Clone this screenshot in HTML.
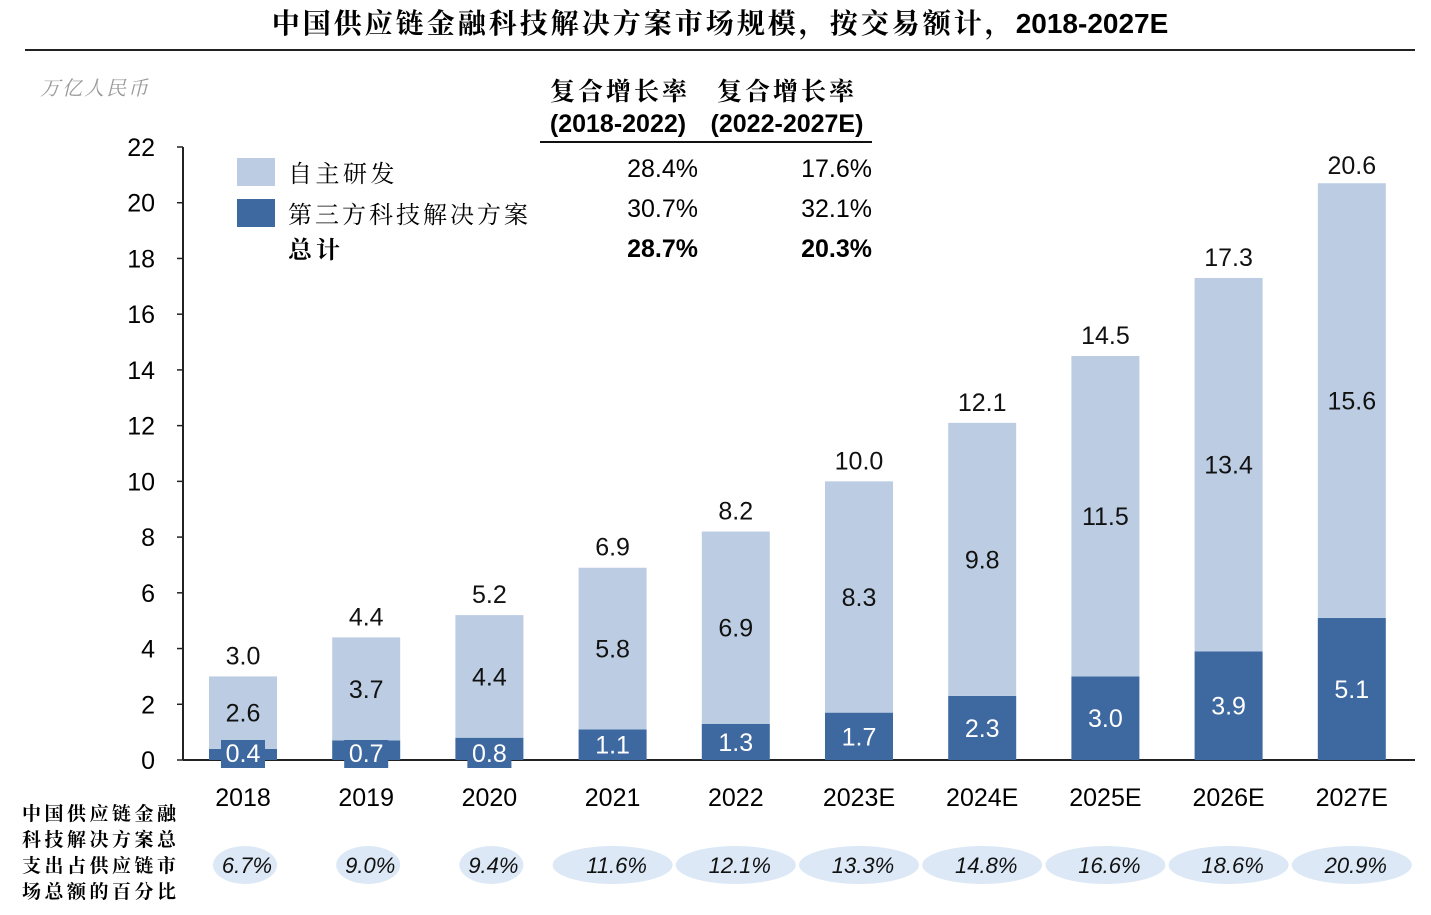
<!DOCTYPE html>
<html><head><meta charset="utf-8"><style>
body{margin:0;background:#fff;width:1431px;height:915px;overflow:hidden;}
svg{display:block;font-family:"Liberation Sans","Noto Sans CJK SC",sans-serif;}
.cjk{font-family:"Liberation Serif","Noto Serif CJK SC",serif;}
</style></head><body>
<svg id="chart" width="1431" height="915">
<text x="720" y="33" text-anchor="middle" font-size="28" font-weight="bold" class="cjk" letter-spacing="3">中国供应链金融科技解决方案市场规模，按交易额计，<tspan font-family="Liberation Sans" letter-spacing="0">2018-2027E</tspan></text>
<line x1="25" y1="50" x2="1415" y2="50" stroke="#222" stroke-width="2"/>
<text x="40" y="95" font-size="20" fill="#999" font-style="italic" class="cjk" letter-spacing="2">万亿人民币</text>
<g font-size="25">
<text x="620" y="100" text-anchor="middle" font-weight="bold" class="cjk" letter-spacing="3">复合增长率</text>
<text x="787" y="100" text-anchor="middle" font-weight="bold" class="cjk" letter-spacing="3">复合增长率</text>
<text x="618" y="132" text-anchor="middle" font-weight="bold">(2018-2022)</text>
<text x="787" y="132" text-anchor="middle" font-weight="bold">(2022-2027E)</text>
<line x1="540" y1="142" x2="872" y2="142" stroke="#111" stroke-width="2"/>
<rect x="237" y="158" width="38" height="28" fill="#bccde3"/>
<text x="288" y="182" class="cjk" font-size="24" letter-spacing="3.5">自主研发</text>
<rect x="237" y="199" width="38" height="28" fill="#3e68a0"/>
<text x="288" y="223" class="cjk" font-size="24" letter-spacing="3">第三方科技解决方案</text>
<text x="288" y="258" font-weight="bold" class="cjk" font-size="24" letter-spacing="4">总计</text>
<text x="698" y="177" text-anchor="end">28.4%</text><text x="872" y="177" text-anchor="end">17.6%</text>
<text x="698" y="217" text-anchor="end">30.7%</text><text x="872" y="217" text-anchor="end">32.1%</text>
<text x="698" y="257" text-anchor="end" font-weight="bold">28.7%</text><text x="872" y="257" text-anchor="end" font-weight="bold">20.3%</text>
</g>
<g id="plot"></g>
<text font-size="19" font-weight="bold" class="cjk" letter-spacing="3.5">
<tspan x="22" y="820">中国供应链金融</tspan><tspan x="22" y="846">科技解决方案总</tspan><tspan x="22" y="872">支出占供应链市</tspan><tspan x="22" y="898">场总额的百分比</tspan></text>
</svg>
<script>
const categories=["2018","2019","2020","2021","2022","2023E","2024E","2025E","2026E","2027E"];
const inHouse=[2.6,3.7,4.4,5.8,6.9,8.3,9.8,11.5,13.4,15.6];
const thirdParty=[0.4,0.7,0.8,1.1,1.3,1.7,2.3,3.0,3.9,5.1];
const totals=[3.0,4.4,5.2,6.9,8.2,10.0,12.1,14.5,17.3,20.6];
const shares=["6.7%","9.0%","9.4%","11.6%","12.1%","13.3%","14.8%","16.6%","18.6%","20.9%"];
const yTicks=[0,2,4,6,8,10,12,14,16,18,20,22];
const NS="http://www.w3.org/2000/svg";
const g=document.getElementById('plot');
const y0=760,yTop=147,yMax=22;
const y=v=>y0-(v/yMax)*(y0-yTop);
const x=i=>243+i*123.2;
const bw=68;
function el(t,a,txt){const e=document.createElementNS(NS,t);for(const k in a)e.setAttribute(k,a[k]);if(txt!==undefined)e.textContent=txt;g.appendChild(e);return e;}
let ax=el('line',{x1:183,y1:147,x2:183,y2:760,stroke:'#222','stroke-width':2});


let xa=el('line',{x1:183,y1:760,x2:1415,y2:760,stroke:'#222','stroke-width':2});


yTicks.forEach(t=>{
  let l=el('line',{x1:177,y1:y(t),x2:183,y2:y(t),stroke:'#222','stroke-width':1.5});
  
  
  let tx=el('text',{x:155,y:y(t)+9,'text-anchor':'end','font-size':25},t);
  
  
});
categories.forEach((c,i)=>{
  const cx=x(i),tot=thirdParty[i]+inHouse[i];
  let b1=el('rect',{x:cx-bw/2,y:y(thirdParty[i]),width:bw,height:y0-y(thirdParty[i]),fill:'#3e68a0'});
  
  
  let b2=el('rect',{x:cx-bw/2,y:y(tot),width:bw,height:y(thirdParty[i])-y(tot),fill:'#bccde3'});
  
  
  const small=thirdParty[i]<1;
  const ly=small?y0+2:(y0+y(thirdParty[i]))/2+9;
  if(small){let bg=el('rect',{x:cx-22,y:y0-20,width:44,height:28,fill:'#3e68a0'});
    
    }
  let l1=el('text',{x:cx,y:ly,'text-anchor':'middle','font-size':25,fill:'#fff'},thirdParty[i].toFixed(1));
  
  
  const my=small&&inHouse[i]<3?y(tot)+45:(y(tot)+y(thirdParty[i]))/2+9;
  let l2=el('text',{x:cx,y:my,'text-anchor':'middle','font-size':25,fill:'#111'},inHouse[i].toFixed(1));
  
  
  let l3=el('text',{x:cx,y:y(totals[i])-12,'text-anchor':'middle','font-size':25,fill:'#111'},totals[i].toFixed(1));
  
  
  let xl=el('text',{x:cx,y:806,'text-anchor':'middle','font-size':25},c);
  
  
  const rx=i<3?32:60;
  let e=el('ellipse',{cx:cx+(i<3?2:0),cy:865,rx:rx,ry:19,fill:'#dce8f5'});
  
  
  let st=el('text',{x:cx+4,y:873,'text-anchor':'middle','font-size':22,'font-style':'italic',fill:'#111'},shares[i]);
  
  
});
</script>
</body></html>
